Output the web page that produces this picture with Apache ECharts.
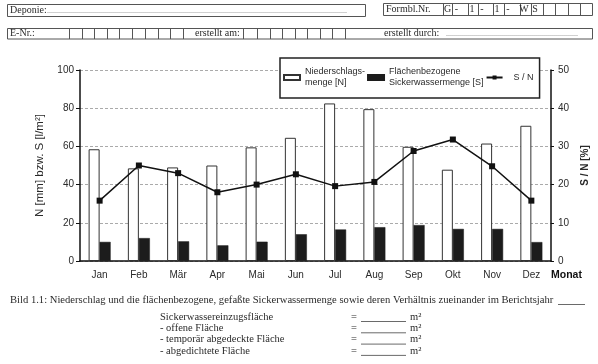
<!DOCTYPE html>
<html><head><meta charset="utf-8">
<script src="https://cdn.jsdelivr.net/npm/echarts@6/dist/echarts.min.js"></script>
<style>html,body{margin:0;padding:0;background:#fff}#c{width:598px;height:364px}</style>
</head><body><div id="c"></div>
<script>
const months = ['Jan','Feb','Mär','Apr','Mai','Jun','Jul','Aug','Sep','Okt','Nov','Dez'];
const niederschlag = [58.5, 48.5, 49, 50, 59.5, 64.5, 82.5, 79.5, 59.8, 47.8, 61.5, 70.8];
const sickerwasser = [10, 12, 10.3, 8.2, 10.1, 14, 16.5, 17.7, 18.8, 16.8, 16.8, 9.9];
const verhaeltnis = [15.8, 25, 23, 18, 20, 22.7, 19.6, 20.7, 28.8, 31.8, 24.8, 15.8];
const leftTicks = [0, 20, 40, 60, 80, 100];
const rightTicks = [0, 10, 20, 30, 40, 50];
const formCodes = ['G','-','1','-','1','-','W','S','','','',''];
const flaechen = ['Sickerwassereinzugsfläche','- offene Fläche','- temporär abgedeckte Fläche','- abgedichtete Fläche'];

const serif = '"Liberation Serif","Times New Roman",serif';
const sans = '"Liberation Sans",Arial,sans-serif';
const ink = '#2a2a2a';
const g = [];
function rect(x,y,w,h){g.push({type:'rect',shape:{x:x,y:y,width:w,height:h},style:{fill:'none',stroke:'#555',lineWidth:1},silent:true});}
function vline(x,y1,y2){g.push({type:'line',shape:{x1:x,y1:y1,x2:x,y2:y2},style:{stroke:'#555',lineWidth:1},silent:true});}
function hline(x1,x2,y){g.push({type:'line',shape:{x1:x1,y1:y,x2:x2,y2:y},style:{stroke:'#444',lineWidth:0.8},silent:true});}
function txt(x,y,s,opt){g.push(Object.assign({type:'text',x:x,y:y,silent:true,style:Object.assign({text:s,fill:ink,font:'10px '+serif,textVerticalAlign:'middle'},opt||{})}));}
// Row 1
rect(7.5,4.5,358,12);
txt(10,10.5,'Deponie:');
txt(47,10.5,'.'.repeat(150),{fill:'#666',font:'8px '+serif});
rect(383.5,3.5,209,12);
const r1 = [443,452,468,478,493,504,520,531,543,555,568,580,593];
r1.slice(0,12).forEach((x,i)=>{vline(x+0.5,3.5,15.5); if(formCodes[i]) txt(i<2?x+4.5:x+4,9.5,formCodes[i],{textAlign:'center'});});
txt(386,9.5,'Formbl.Nr.');
// Row 2
rect(7.5,28.5,585,10.5);
txt(10,33.8,'E-Nr.:');
[69,82,94,107,119,132,145,158,170,183,243,257,270,282,295,307,320,332,345].forEach(x=>vline(x+0.5,28.5,39));
txt(195,33.8,'erstellt am:');
txt(384,33,'erstellt durch:');
txt(446,33.5,'.'.repeat(66),{fill:'#666',font:'8px '+serif});
// Caption
txt(10,300,'Bild 1.1: Niederschlag und die flächenbezogene, gefaßte Sickerwassermenge sowie deren Verhältnis zueinander im Berichtsjahr',{font:'10.6px '+serif});
hline(558,585,304.5);
flaechen.forEach((s,i)=>{
  const y = 317 + i*11.3;
  txt(160,y,s,{font:'10.5px '+serif});
  txt(351,y,'=',{font:'10.5px '+serif});
  hline(361,406,y+4.5);
  txt(410,y,'m²',{font:'10.5px '+serif});
});

const chart = echarts.init(document.getElementById('c'),null,{renderer:'canvas'});
chart.setOption({
  backgroundColor:'#fff',
  animation:false,
  graphic:g,
  grid:{left:80,right:40,top:70,bottom:103,containLabel:false},
  legend:{
    left:280, top:58, orient:'horizontal',
    backgroundColor:'#fff', borderColor:'#222', borderWidth:1.5,
    padding:[3,6,4,3], itemGap:2, itemWidth:16, itemHeight:5,
    textStyle:{fontFamily:sans,fontSize:9,color:ink,lineHeight:11},
    data:[
      {name:'Niederschlags-\nmenge [N]',icon:'rect',textStyle:{padding:[11,0,0,0]}},
      {name:'Flächenbezogene\nSickerwassermenge [S]',icon:'rect',textStyle:{padding:[11,0,0,0]}},
      {name:'S / N',textStyle:{padding:[0,0,0,6]}}
    ]
  },
  xAxis:{
    type:'category', data:months,
    axisLine:{lineStyle:{color:'#111',width:1.5}},
    axisTick:{show:false},
    axisLabel:{fontFamily:sans,fontSize:10,color:ink,margin:9},
    name:'Monat', nameLocation:'end', nameGap:0,
    nameTextStyle:{fontFamily:sans,fontSize:10.5,fontWeight:'bold',color:'#111',verticalAlign:'top',align:'left',padding:[9,0,0,0]}
  },
  yAxis:[{
    type:'value', min:leftTicks[0], max:leftTicks[leftTicks.length-1], interval:leftTicks[1]-leftTicks[0],
    axisLine:{show:true,lineStyle:{color:'#111',width:1.5}},
    axisTick:{show:true,length:4,lineStyle:{color:'#111'}},
    axisLabel:{fontFamily:sans,fontSize:10,color:ink,margin:6},
    splitLine:{lineStyle:{color:'#aaa',width:1,type:[3,2]}},
    name:'N [mm] bzw. S [l/m²]', nameLocation:'middle', nameRotate:90, nameGap:34,
    nameTextStyle:{fontFamily:sans,fontSize:11.5,color:ink}
  },{
    type:'value', min:rightTicks[0], max:rightTicks[rightTicks.length-1], interval:rightTicks[1]-rightTicks[0],
    position:'right',
    axisLine:{show:true,lineStyle:{color:'#111',width:1.5}},
    axisTick:{show:true,length:3,lineStyle:{color:'#111'}},
    axisLabel:{fontFamily:sans,fontSize:10,color:ink,margin:7},
    splitLine:{show:false},
    name:'S / N [%]', nameLocation:'middle', nameRotate:90, nameGap:23,
    nameTextStyle:{fontFamily:sans,fontSize:10,fontWeight:'bold',color:ink}
  }],
  series:[
    {name:'Niederschlags-\nmenge [N]',type:'bar',data:niederschlag,barWidth:11,barGap:'0%',
     itemStyle:{color:'#fff',borderColor:'#333',borderWidth:1}},
    {name:'Flächenbezogene\nSickerwassermenge [S]',type:'bar',data:sickerwasser,barWidth:11,
     itemStyle:{color:'#1c1c1c',borderColor:'#1c1c1c',borderWidth:0.5}},
    {name:'S / N',type:'line',yAxisIndex:1,data:verhaeltnis,symbol:'rect',symbolSize:6,
     lineStyle:{color:'#111',width:1.5},itemStyle:{color:'#111'}}
  ]
});
</script></body></html>
